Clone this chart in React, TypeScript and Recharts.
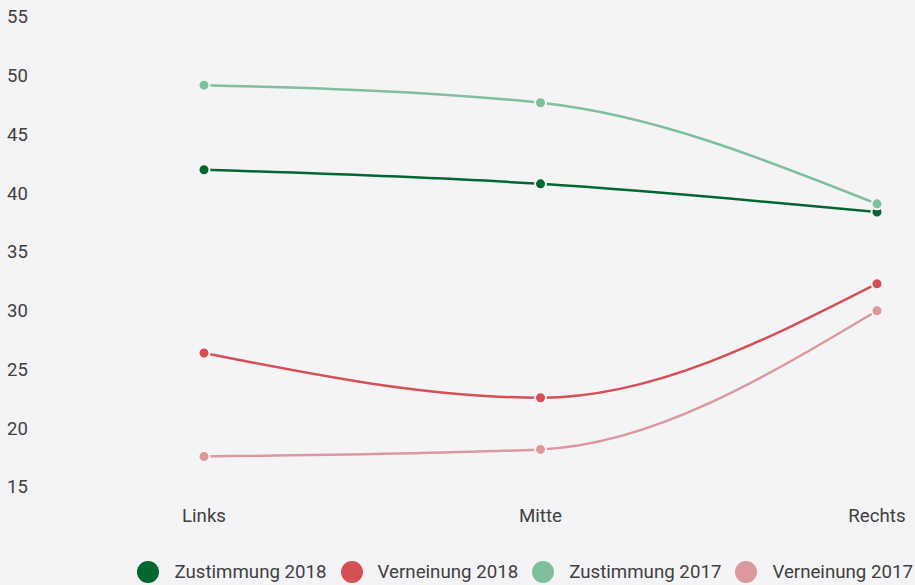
import React from "react";
import { LineChart, Line, XAxis, YAxis, Legend } from "recharts";

const categories = ["Links", "Mitte", "Rechts"];
const zustimmung2018 = [42.0, 40.8, 38.4];
const verneinung2018 = [26.4, 22.6, 32.3];
const zustimmung2017 = [49.2, 47.7, 39.1];
const verneinung2017 = [17.6, 18.2, 30.0];
const yTicks = [15, 20, 25, 30, 35, 40, 45, 50, 55];

const BG = "#f4f4f7";
const TEXT = "#404040";

const series = [
  { key: "z2018", name: "Zustimmung 2018", color: "#00672f", values: zustimmung2018 },
  { key: "v2018", name: "Verneinung 2018", color: "#d64f55", values: verneinung2018 },
  { key: "z2017", name: "Zustimmung 2017", color: "#7fbf9c", values: zustimmung2017 },
  { key: "v2017", name: "Verneinung 2017", color: "#dc989c", values: verneinung2017 },
];

const data = categories.map((c, i) => {
  const row: Record<string, string | number> = { name: c };
  series.forEach((s) => (row[s.key] = s.values[i]));
  return row;
});

const YTick = (props: any) => (
  <text x={7} y={props.y} dy="0.35em" textAnchor="start" fill={TEXT} fontSize={18.5}>
    {props.payload.value}
  </text>
);

const LegendBox = () => (
  <div
    style={{
      display: "flex",
      justifyContent: "flex-end",
      alignItems: "center",
      gap: 14,
      paddingRight: 2,
      paddingTop: 16,
      fontSize: 18.7,
      color: TEXT,
    }}
  >
    {series.map((s) => (
      <div key={s.key} style={{ display: "flex", alignItems: "center" }}>
        <span
          style={{
            width: 22,
            height: 22,
            borderRadius: "50%",
            background: s.color,
            marginRight: 15,
            display: "inline-block",
          }}
        />
        <span>{s.name}</span>
      </div>
    ))}
  </div>
);

export default function App() {
  return (
    <div
      style={{
        position: "absolute",
        left: 0,
        top: 0,
        width: 915,
        height: 585,
        background: BG,
        fontFamily: "Roboto, sans-serif",
      }}
    >
      <LineChart width={915} height={585} data={data} margin={{ top: 17, right: 0, left: 0, bottom: 0 }}>
        <XAxis
          dataKey="name"
          axisLine={false}
          tickLine={false}
          tickSize={0}
          tickMargin={22}
          height={58}
          padding={{ left: 164, right: 38 }}
          tick={{ fill: TEXT, fontSize: 18.7 }}
        />
        <YAxis
          domain={[15, 55]}
          ticks={yTicks}
          axisLine={false}
          tickLine={false}
          width={40}
          tick={<YTick />}
        />
        <Legend verticalAlign="bottom" height={40} content={<LegendBox />} />
        {series.map((s) => (
          <Line
            key={s.key}
            dataKey={s.key}
            name={s.name}
            type="monotone"
            stroke={s.color}
            strokeWidth={2.5}
            dot={{ r: 5.5, fill: s.color, stroke: BG, strokeWidth: 2 }}
            activeDot={false}
            isAnimationActive={false}
          />
        ))}
      </LineChart>
    </div>
  );
}
